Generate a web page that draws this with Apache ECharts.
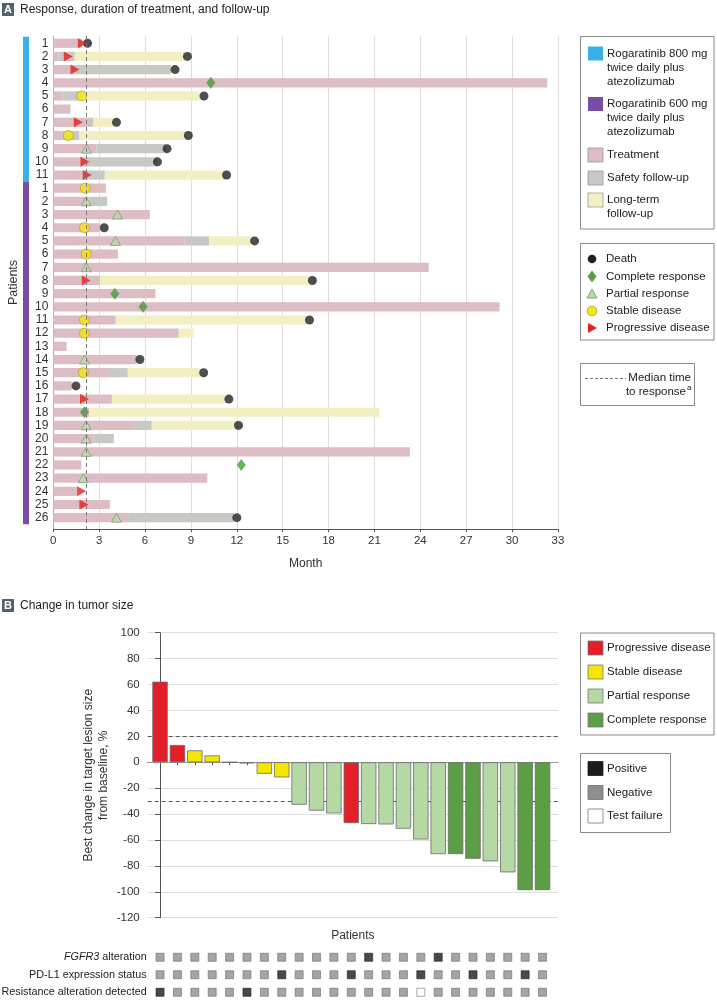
<!DOCTYPE html>
<html><head><meta charset="utf-8">
<script src="https://cdn.jsdelivr.net/npm/echarts@6/dist/echarts.min.js"></script>
<style>html,body{margin:0;padding:0;background:#fff}#c{width:717px;height:1000px}</style>
</head><body><div id="c"></div>
<script>
const FONT = "'Liberation Sans',Arial,sans-serif";

// ---------- Panel A data ----------
const armNames = ['Rogaratinib 800 mg twice daily plus atezolizumab', 'Rogaratinib 600 mg twice daily plus atezolizumab'];
const armCounts = [11, 26];
const rowLabels = ['1','2','3','4','5','6','7','8','9','10','11',
  '1','2','3','4','5','6','7','8','9','10','11','12','13','14','15','16','17','18','19','20','21','22','23','24','25','26'];
const treatEnd = [1.85,0.35,1.2,32.3,0.6,1.13,2.07,0.55,2.83,2.4,2.3,
  3.44,2.3,6.31,3.05,8.59,4.22,24.55,3.05,6.68,29.18,4.09,8.2,0.87,5.44,3.52,1.2,3.83,2.35,5.33,2.61,23.31,1.83,10.07,1.57,3.7,4.89];
const safetyEnd = [null,1.4,7.7,null,1.9,null,2.6,1.68,7.4,6.75,3.37,
  null,3.52,null,null,10.18,null,null,null,null,null,null,null,null,null,4.87,null,null,null,6.44,3.96,null,null,null,null,null,11.81];
const followEnd = [null,8.6,null,null,9.57,null,4.0,8.7,null,null,11.3,
  null,null,null,null,12.94,null,null,16.75,null,null,16.53,9.18,null,null,9.57,null,11.3,21.31,12.0,null,null,null,null,null,null,null];
const deathMonth = [2.24,8.77,7.96,null,9.85,null,4.13,8.83,7.44,6.81,11.33,
  null,null,null,3.33,13.16,null,null,16.94,null,null,16.75,null,null,5.66,9.83,1.48,11.48,null,12.11,null,null,null,null,null,null,12.0];
const respType = ['PD','PD','PD','CR','SD',null,'PD','SD','PR','PD','PD',
  'SD','PR','PR','SD','PR','SD','PR','PD','CR','CR','SD','SD',null,'PR','SD',null,'PD','CR','PR','PR','PR','CR','PR','PD','PD','PR'];
const respMonth = [1.9,0.98,1.42,10.3,1.85,null,1.63,0.98,2.17,2.07,2.22,
  2.09,2.15,4.2,2.04,4.07,2.15,2.15,2.15,4.02,5.87,2.04,2.04,null,2.04,1.96,null,2.04,2.04,2.15,2.15,2.15,12.29,1.96,1.85,2.0,4.13];
const medianTimeToResponse = 2.15;

// ---------- Panel B data ----------
const tumorChange = [62.2,13.3,9.2,5.3,0,-0.9,-8.9,-11.7,-32.8,-37.4,-39.5,-47,-47.7,-48,-51.3,-59.6,-70.9,-70.9,-74.5,-76.5,-85,-98.7,-98.7];
const bestResponse = ['PD','PD','SD','SD','SD','SD','SD','SD','PR','PR','PR','PD','PR','PR','PR','PR','PR','CR','CR','PR','PR','CR','CR'];
const fgfr3Status = ['N','N','N','N','N','N','N','N','N','N','N','N','P','N','N','N','P','N','N','N','N','N','N'];
const pdl1Status = ['N','N','N','N','N','N','N','P','N','N','N','P','N','N','N','P','N','N','P','N','N','P','N'];
const resistanceStatus = ['P','N','N','N','N','P','N','N','N','N','N','N','N','N','N','F','N','N','N','N','N','N','N'];
const biomarkerRows = ['{i|FGFR3} alteration', 'PD-L1 expression status', 'Resistance alteration detected'];

// ---------- styles ----------
const SEG_COLORS = ['#dcbdc3', '#c8c8c4', '#f2f0c3'];
const ARM_COLORS = ['#38b2e4', '#7a4da2'];
const RESP_COLORS = {PD:'#e3202a', SD:'#f4e600', PR:'#b4d9a4', CR:'#5b9e45'};
const STATUS_STYLE = {P:{color:'#1c1c1c', borderColor:'#1c1c1c'}, N:{color:'#8e8e8e', borderColor:'#6e6e6e'}, F:{color:'#ffffff', borderColor:'#777'}};

// derived series data
const ROWS = rowLabels.length;
const segData = [];
for (let i = 0; i < ROWS; i++) {
  const r = i + 1;
  segData.push([0, treatEnd[i], r, 0]);
  let cur = treatEnd[i];
  if (safetyEnd[i] != null) { segData.push([cur, safetyEnd[i], r, 1]); cur = safetyEnd[i]; }
  if (followEnd[i] != null) { segData.push([cur, followEnd[i], r, 2]); }
}
const armData = [];
let acc = 0;
armCounts.forEach((n, k) => { armData.push([acc + 0.5, acc + n + 0.5, k]); acc += n; });
const deathPts = [];
deathMonth.forEach((m, i) => { if (m != null) deathPts.push([m, i + 1]); });
function respPts(t) { const o = []; respType.forEach((tt, i) => { if (tt === t) o.push([respMonth[i], i + 1]); }); return o; }
const bioData = [];
[fgfr3Status, pdl1Status, resistanceStatus].forEach((arr, r) => arr.forEach((s, c) => bioData.push({value:[c, r], itemStyle: STATUS_STYLE[s]})));
const colTicks = tumorChange.map((v, i) => i);
const rowTicks = rowLabels.map((v, i) => i + 1);

// ---------- graphics (titles, legends) ----------
const LF = 11.5;
function txt(x, y, s, opt) { return {type:'text', x, y, silent:true, style:Object.assign({text:s, fill:'#222', fontSize:LF, fontFamily:FONT, verticalAlign:'middle', align:'left'}, opt || {})}; }
function rect(x, y, w, h, fill, stroke, lw) { return {type:'rect', silent:true, shape:{x, y, width:w, height:h}, style:{fill, stroke: stroke || null, lineWidth: lw || 1}}; }
const g = [];
// panel labels
g.push(rect(2, 3, 12, 13, '#55606e'));
g.push(txt(8, 9.8, 'A', {fill:'#fff', fontWeight:'bold', align:'center', fontSize:11}));
g.push(txt(20, 9.5, 'Response, duration of treatment, and follow-up', {fontSize:12}));
g.push(rect(2, 599, 12, 13, '#55606e'));
g.push(txt(8, 605.8, 'B', {fill:'#fff', fontWeight:'bold', align:'center', fontSize:11}));
g.push(txt(20, 605.5, 'Change in tumor size', {fontSize:12}));
// legend A box 1
g.push(rect(580.5, 36.5, 133.5, 192.5, null, '#8a8a8a', 1));
g.push(rect(588, 46.5, 15, 14, ARM_COLORS[0]));
g.push(txt(607, 53.5, 'Rogaratinib 800 mg')); g.push(txt(607, 67.5, 'twice daily plus')); g.push(txt(607, 81.5, 'atezolizumab'));
g.push(rect(588, 97, 15, 14, ARM_COLORS[1]));
g.push(txt(607, 104, 'Rogaratinib 600 mg')); g.push(txt(607, 118, 'twice daily plus')); g.push(txt(607, 132, 'atezolizumab'));
g.push(rect(588, 148, 15, 14, SEG_COLORS[0], '#999', 0.8)); g.push(txt(607, 155, 'Treatment'));
g.push(rect(588, 171, 15, 14, SEG_COLORS[1], '#999', 0.8)); g.push(txt(607, 178, 'Safety follow-up'));
g.push(rect(588, 193, 15, 14, SEG_COLORS[2], '#999', 0.8)); g.push(txt(607, 200, 'Long-term')); g.push(txt(607, 214, 'follow-up'));
// legend A box 2
g.push(rect(580.5, 243.5, 133.5, 96.5, null, '#8a8a8a', 1));
g.push({type:'circle', silent:true, shape:{cx:592, cy:259, r:4.3}, style:{fill:'#222'}}); g.push(txt(606, 259, 'Death'));
g.push({type:'polygon', silent:true, shape:{points:[[592,270.5],[596.5,276.5],[592,282.5],[587.5,276.5]]}, style:{fill:RESP_COLORS.CR}}); g.push(txt(606, 276.5, 'Complete response'));
g.push({type:'polygon', silent:true, shape:{points:[[592,289],[597,298],[587,298]]}, style:{fill:'#b9dcab', stroke:'#6f8f66', lineWidth:0.8}}); g.push(txt(606, 294, 'Partial response'));
g.push({type:'circle', silent:true, shape:{cx:592, cy:311, r:4.8}, style:{fill:'#f7e514', stroke:'#a89a10', lineWidth:0.8}}); g.push(txt(606, 311, 'Stable disease'));
g.push({type:'polygon', silent:true, shape:{points:[[588,323],[597,328],[588,333]]}, style:{fill:'#e3211c'}}); g.push(txt(606, 328, 'Progressive disease'));
// legend A box 3
g.push(rect(580.5, 363.5, 114, 42, null, '#8a8a8a', 1));
g.push({type:'line', silent:true, shape:{x1:585, y1:378.5, x2:626, y2:378.5}, style:{stroke:'#777', lineWidth:1, lineDash:[3,2]}});
g.push(txt(691, 378, 'Median time', {align:'right'}));
g.push(txt(686, 392, 'to response', {align:'right'}));
g.push(txt(687, 388, 'a', {fontSize:8}));
// legend B box 1
g.push(rect(580.5, 633, 133.5, 102, null, '#8a8a8a', 1));
[['PD','Progressive disease',648],['SD','Stable disease',672],['PR','Partial response',696],['CR','Complete response',720]].forEach(([k, s, y]) => {
  g.push(rect(588, y - 7, 15, 14, RESP_COLORS[k], '#777', 0.8)); g.push(txt(607, y, s));
});
// legend B box 2
g.push(rect(580.5, 753.5, 90, 79, null, '#8a8a8a', 1));
[['P','Positive',768.5],['N','Negative',792.5],['F','Test failure',816]].forEach(([k, s, y]) => {
  g.push(rect(588, y - 7, 15, 14, STATUS_STYLE[k].color, STATUS_STYLE[k].borderColor, 0.8)); g.push(txt(607, y, s));
});

const axisText = {fontFamily:FONT, color:'#333', fontSize:11.5};

const option = {
  animation:false,
  backgroundColor:'#fff',
  textStyle:{fontFamily:FONT},
  graphic:g,
  grid:[
    {left:53.3, right:159, top:36, bottom:471, containLabel:false, outerBoundsMode:'none'},
    {left:147.7, right:159, top:632.7, bottom:82.3, containLabel:false, outerBoundsMode:'none'},
    {left:147.7, right:159, top:952, height:45.5, containLabel:false, outerBoundsMode:'none'}
  ],
  xAxis:[
    {gridIndex:0, type:'value', min:0, max:33, interval:3,
     axisLine:{lineStyle:{color:'#555'}}, axisTick:{show:true, length:3, lineStyle:{color:'#555'}},
     axisLabel:Object.assign({margin:6}, axisText), splitLine:{lineStyle:{color:'#dedede'}},
     name:'Month', nameLocation:'middle', nameGap:29, nameMoveOverlap:false, nameTextStyle:Object.assign({}, axisText, {fontSize:12})},
    {gridIndex:1, type:'value', min:-0.71, max:22.89,
     axisLine:{lineStyle:{color:'#555'}}, axisTick:{show:true, length:3, customValues:colTicks, lineStyle:{color:'#555'}},
     axisLabel:{show:false}, splitLine:{show:false},
     name:'Patients', nameLocation:'middle', nameGap:12, nameMoveOverlap:false, nameTextStyle:Object.assign({}, axisText, {fontSize:12})},
    {gridIndex:2, type:'value', min:-0.71, max:22.89, show:false}
  ],
  yAxis:[
    {gridIndex:0, type:'value', inverse:true, min:0.45, max:37.86,
     axisLine:{show:true, lineStyle:{color:'#aaa'}}, axisTick:{show:false}, splitLine:{show:false},
     axisLabel:Object.assign({margin:5, showMinLabel:true, showMaxLabel:true, hideOverlap:false, customValues:rowTicks,
       formatter:(v) => rowLabels[Math.round(v) - 1] || ''}, axisText, {fontSize:12, lineHeight:12}),
     name:'Patients', nameLocation:'middle', nameGap:33, nameMoveOverlap:false, nameTextStyle:Object.assign({}, axisText, {fontSize:12.5})},
    {gridIndex:1, type:'value', min:-120, max:100, interval:20,
     axisLine:{show:true, lineStyle:{color:'#555'}}, axisTick:{show:true, length:5, lineStyle:{color:'#555'}},
     splitLine:{lineStyle:{color:'#dedede'}}, axisLabel:Object.assign({margin:8}, axisText),
     name:'Best change in target lesion size\nfrom baseline, %', nameLocation:'middle', nameGap:37, nameMoveOverlap:false,
     nameTextStyle:Object.assign({}, axisText, {fontSize:12, lineHeight:15})},
    {gridIndex:2, type:'value', inverse:true, min:-0.3, max:2.3,
     axisLine:{show:false}, axisTick:{show:false}, splitLine:{show:false},
     axisLabel:Object.assign({margin:1, showMinLabel:true, showMaxLabel:true, customValues:[0,1,2], formatter:(v) => biomarkerRows[Math.round(v)],
       rich:{i:{fontStyle:'italic', fontFamily:FONT, fontSize:10.8, color:'#222'}}}, axisText, {color:'#222', fontSize:10.8})}
  ],
  series:[
    {type:'custom', name:'arm', xAxisIndex:0, yAxisIndex:0, clip:false, silent:true, z:1,
     data:armData, encode:{y:[0,1]},
     renderItem:(p, api) => { const a = api.coord([0, api.value(0)]); const b = api.coord([0, api.value(1)]);
       return {type:'rect', shape:{x:23, y:a[1], width:6, height:b[1] - a[1]}, style:{fill:ARM_COLORS[api.value(2)]}}; }},
    {type:'custom', name:'segments', xAxisIndex:0, yAxisIndex:0, silent:true, z:2,
     data:segData, encode:{x:[0,1], y:2},
     renderItem:(p, api) => { const r = api.value(2); const a = api.coord([api.value(0), r]); const b = api.coord([api.value(1), r]);
       const h = api.size([0,1])[1] * 0.7;
       return {type:'rect', shape:{x:a[0], y:a[1] - h/2, width:b[0] - a[0], height:h}, style:{fill:SEG_COLORS[api.value(3)]}}; }},
    {type:'scatter', name:'Death', xAxisIndex:0, yAxisIndex:0, z:4, symbol:'circle', symbolSize:9,
     itemStyle:{color:'#222'}, data:deathPts,
     markLine:{silent:true, symbol:['none','none'], label:{show:false}, lineStyle:{type:[4,3], color:'#7a7a7a', width:1},
       data:[{xAxis:medianTimeToResponse}]}},
    {type:'scatter', name:'CR', xAxisIndex:0, yAxisIndex:0, z:4, symbol:'diamond', symbolSize:[9,12],
     itemStyle:{color:'#4e9a3e'}, data:respPts('CR')},
    {type:'scatter', name:'PR', xAxisIndex:0, yAxisIndex:0, z:4, symbol:'triangle', symbolSize:[10,9],
     itemStyle:{color:'#b9dcab', borderColor:'#6f8f66', borderWidth:0.8}, data:respPts('PR')},
    {type:'scatter', name:'SD', xAxisIndex:0, yAxisIndex:0, z:4, symbol:'circle', symbolSize:10,
     itemStyle:{color:'#f7e514', borderColor:'#a89a10', borderWidth:0.8}, data:respPts('SD')},
    {type:'scatter', name:'PD', xAxisIndex:0, yAxisIndex:0, z:4, symbol:'triangle', symbolRotate:-90, symbolSize:[10,9],
     itemStyle:{color:'#e3211c'}, data:respPts('PD')},
    {type:'bar', name:'change', xAxisIndex:1, yAxisIndex:1, barWidth:15.4,
     itemStyle:{borderColor:'#6b6b6b', borderWidth:0.8},
     data:tumorChange.map((v, i) => ({value:[i, v], itemStyle:{color:RESP_COLORS[bestResponse[i]]}})),
     markLine:{silent:true, symbol:['none','none'], label:{show:false}, z:1,
       data:[
         {yAxis:20, lineStyle:{type:[4,3], color:'#555', width:1}},
         {yAxis:-30, lineStyle:{type:[4,3], color:'#555', width:1}},
         {yAxis:0, lineStyle:{type:'solid', color:'#999', width:1}}
       ]}},
    {type:'scatter', name:'biomarkers', xAxisIndex:2, yAxisIndex:2, symbol:'rect', symbolSize:8,
     itemStyle:{borderWidth:0.8}, data:bioData}
  ]
};
const chart = echarts.init(document.getElementById('c'), null, {renderer:'canvas'});
chart.setOption(option);
</script></body></html>
